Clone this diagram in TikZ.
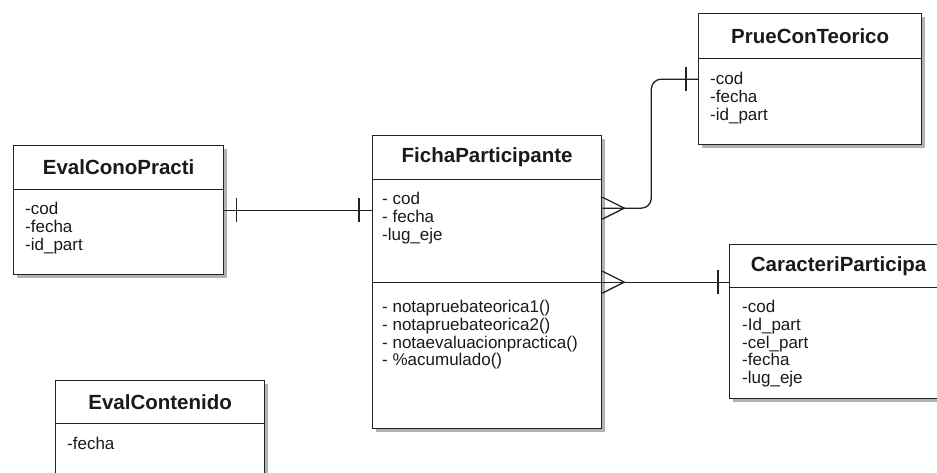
\documentclass[tikz,border=0pt]{standalone}
\usepackage{fontspec}
\setmainfont{Liberation Sans}
\usetikzlibrary{positioning,calc,shadows}
\definecolor{ink}{HTML}{1A1A1A}
\definecolor{edge}{HTML}{222222}
\tikzset{cls/.style={draw=edge,line width=1.3pt,fill=white,anchor=north west,inner sep=0pt,
    drop shadow={shadow xshift=3.5pt,shadow yshift=-3.5pt,opacity=0.3,fill=black}},
  head/.style={draw=edge,line width=1.3pt,anchor=north,inner sep=0pt,text=ink,
    font=\fontsize{20.5}{24}\selectfont\bfseries},
  attr/.style={anchor=north west,inner sep=0pt,align=left,text=ink,
    font=\fontsize{17}{17.7}\selectfont},
  lnk/.style={line width=1.3pt,draw=edge}}

\begin{document}
\begin{tikzpicture}[x=1pt,y=-1pt]
\useasboundingbox (0,0) rectangle (937,472);
\node[cls,minimum width=210pt,minimum height=129pt] (epract) at (13,145) {};
\node[head,minimum width=210pt,minimum height=44pt] (epractH) at (epract.north) {EvalConoPracti};
\node[attr,below right=12pt and 12pt of epractH.south west] (epractA) {-cod\\-fecha\\-id\_part};
\node[cls,minimum width=229pt,minimum height=293pt] (fic) at (372,135) {};
\node[head,minimum width=229pt,minimum height=44pt] (ficH) at (fic.north) {FichaParticipante};
\node[attr,below right=12pt and 10pt of ficH.south west] (ficA) {- cod\\- fecha\\-lug\_eje};
\draw[lnk] (fic.west) -- (fic.east);
\node[attr,below right=18pt and 10pt of fic.west] (ficM) {- notapruebateorica1()\\- notapruebateorica2()\\- notaevaluacionpractica()\\- \%acumulado()};
\node[cls,minimum width=223pt,minimum height=131pt] (pct) at (698,13) {};
\node[head,minimum width=223pt,minimum height=45pt] (pctH) at (pct.north) {PrueConTeorico};
\node[attr,below right=13pt and 12pt of pctH.south west] (pctA) {-cod\\-fecha\\-id\_part};
\node[cls,minimum width=218pt,minimum height=154pt] (car) at (729,244) {};
\node[head,minimum width=218pt,minimum height=43pt] (carH) at (car.north) {CaracteriParticipa};
\node[attr,below right=12pt and 13pt of carH.south west] (carA) {-cod\\-Id\_part\\-cel\_part\\-fecha\\-lug\_eje};
\node[cls,minimum width=209pt,minimum height=125pt] (econ) at (55,380) {};
\node[head,minimum width=209pt,minimum height=43pt] (econH) at (econ.north) {EvalContenido};
\node[attr,below right=13pt and 12pt of econH.south west] (econA) {-fecha};
\coordinate (e1) at (fic.west |- epract.east);
\coordinate (f1) at ([yshift=74pt]fic.east);
\coordinate (c1) at (car.west |- fic.east);
\draw[lnk] (epract.east) -- (e1);
\draw[lnk] ([xshift=12pt]epract.east) ++(0,-12) -- ++(0,24);
\draw[lnk] ([xshift=-13pt]e1) ++(0,-12) -- ++(0,24);
\draw[lnk,rounded corners=10pt] (f1) -- ++(49,0) |- (pct.west);
\draw[lnk] ([yshift=11pt]f1) -- ([xshift=22pt]f1) -- ([yshift=-11pt]f1);
\draw[lnk] ([xshift=-12pt]pct.west) ++(0,-12) -- ++(0,24);
\draw[lnk] (fic.east) -- (c1);
\draw[lnk] ([yshift=11pt]fic.east) -- ([xshift=22pt]fic.east) -- ([yshift=-11pt]fic.east);
\draw[lnk] ([xshift=-11pt]c1) ++(0,-12) -- ++(0,24);
\end{tikzpicture}
\end{document}
